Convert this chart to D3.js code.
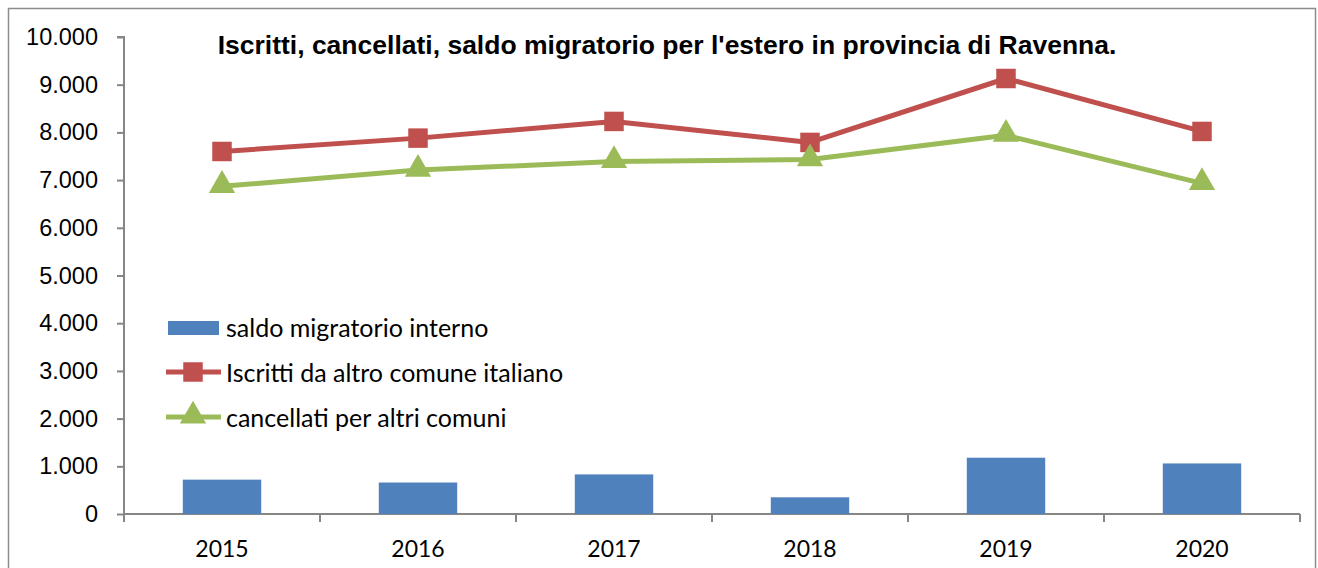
<!DOCTYPE html>
<html>
<head>
<meta charset="utf-8">
<script src="https://cdn.jsdelivr.net/npm/d3@7"></script>
<style>
  body { margin: 0; background: #fff; }
  svg { display: block; }
</style>
</head>
<body>
<script>
var years = ['2015', '2016', '2017', '2018', '2019', '2020'];
var saldo = [720, 660, 830, 350, 1180, 1060];
var iscritti = [7600, 7880, 8230, 7790, 9130, 8020];
var cancellati = [6870, 7210, 7390, 7430, 7940, 6930];
var yTicks = [0, 1000, 2000, 3000, 4000, 5000, 6000, 7000, 8000, 9000, 10000];

var width = 1318, height = 568;
var pLeft = 124, pRight = 1300, pTop = 37, pBottom = 514;

var svg = d3.select('body').append('svg').attr('width', width).attr('height', height);

// outer frame
svg.append('rect').attr('x', 8.5).attr('y', 8.5).attr('width', 1307).attr('height', 580)
   .attr('fill', 'none').attr('stroke', '#8c8c8c').attr('stroke-width', 1.5);

var x = d3.scaleBand().domain(years).range([pLeft, pRight]);
var y = d3.scaleLinear().domain([0, 10000]).range([pBottom, pTop]);
var fmt = d3.formatLocale({decimal: ',', thousands: '.', grouping: [3], currency: ['', '€']}).format(',d');

// y axis
var ya = svg.append('g').attr('transform', 'translate(' + pLeft + ',0)')
   .call(d3.axisLeft(y).tickValues(yTicks).tickFormat(fmt).tickSize(7).tickPadding(19));
ya.attr('font-size', null).attr('font-family', null);
ya.selectAll('text').style('font-family', 'Liberation Sans, Arial, sans-serif').style('font-size', '23.5px').attr('fill', '#000');
ya.selectAll('line, path').attr('stroke', '#868686').attr('stroke-width', 2);
ya.select('.domain').attr('d', 'M-7,' + pTop + 'H0V' + pBottom);

// x axis: ticks on band boundaries
var xa = svg.append('g').attr('transform', 'translate(0,' + pBottom + ')');
xa.append('line').attr('x1', pLeft).attr('x2', pRight).attr('y1', 0).attr('y2', 0);
xa.selectAll('.tk').data(years.concat(['end'])).enter().append('line')
  .attr('x1', (d, i) => pLeft + i * x.bandwidth()).attr('x2', (d, i) => pLeft + i * x.bandwidth())
  .attr('y1', 0).attr('y2', 8);
xa.selectAll('line').attr('stroke', '#868686').attr('stroke-width', 2);
xa.selectAll('text').data(years).enter().append('text')
  .attr('x', d => x(d) + x.bandwidth() / 2).attr('y', 43)
  .attr('text-anchor', 'middle').attr('font-family', 'Lato, Carlito, Calibri, sans-serif')
  .attr('font-size', 23).text(d => d);

// bars
var bw = x.bandwidth() * 0.4;
svg.selectAll('.bar').data(saldo).enter().append('rect')
   .attr('x', (d, i) => x(years[i]) + x.bandwidth() / 2 - bw / 2)
   .attr('y', d => y(d)).attr('width', bw).attr('height', d => y(0) - y(d))
   .attr('fill', '#4f81bd');

var cx = (d, i) => x(years[i]) + x.bandwidth() / 2;
var line = d3.line().x(cx).y(d => y(d));

svg.append('path').datum(iscritti).attr('d', line).attr('fill', 'none')
   .attr('stroke', '#c0504d').attr('stroke-width', 5).attr('stroke-linejoin', 'round');
svg.append('path').datum(cancellati).attr('d', line).attr('fill', 'none')
   .attr('stroke', '#9bbb59').attr('stroke-width', 5).attr('stroke-linejoin', 'round');

var sq = d3.symbol().type(d3.symbolSquare).size(380);
var tri = d3.symbol().type(d3.symbolTriangle).size(300);
svg.selectAll('.sq').data(iscritti).enter().append('path')
   .attr('d', sq).attr('transform', (d, i) => 'translate(' + cx(d, i) + ',' + y(d) + ')')
   .attr('fill', '#c0504d');
svg.selectAll('.tri').data(cancellati).enter().append('path')
   .attr('d', tri).attr('transform', (d, i) => 'translate(' + cx(d, i) + ',' + (y(d) - 1) + ')')
   .attr('fill', '#9bbb59');

// title
svg.append('text').attr('x', 667).attr('y', 54).attr('text-anchor', 'middle')
   .attr('font-family', 'Liberation Sans, Arial, sans-serif').attr('font-weight', 'bold')
   .attr('font-size', 26.5).text("Iscritti, cancellati, saldo migratorio per l'estero in provincia di Ravenna.");

// legend
var leg = svg.append('g').attr('font-family', 'Lato, Carlito, Calibri, sans-serif').attr('font-size', 25);
leg.append('rect').attr('x', 168).attr('y', 321).attr('width', 51).attr('height', 14).attr('fill', '#4f81bd');
leg.append('line').attr('x1', 166).attr('x2', 221).attr('y1', 372).attr('y2', 372)
   .attr('stroke', '#c0504d').attr('stroke-width', 5);
leg.append('path').attr('d', sq).attr('transform', 'translate(193,372)').attr('fill', '#c0504d');
leg.append('line').attr('x1', 166).attr('x2', 221).attr('y1', 417).attr('y2', 417)
   .attr('stroke', '#9bbb59').attr('stroke-width', 5);
leg.append('path').attr('d', tri).attr('transform', 'translate(193,416)').attr('fill', '#9bbb59');
var labels = ['saldo migratorio interno', 'Iscritti da altro comune italiano', 'cancellati per altri comuni'];
leg.selectAll('text').data(labels).enter().append('text')
   .attr('x', 226).attr('y', (d, i) => 337 + i * 45).text(d => d);
</script>
</body>
</html>
